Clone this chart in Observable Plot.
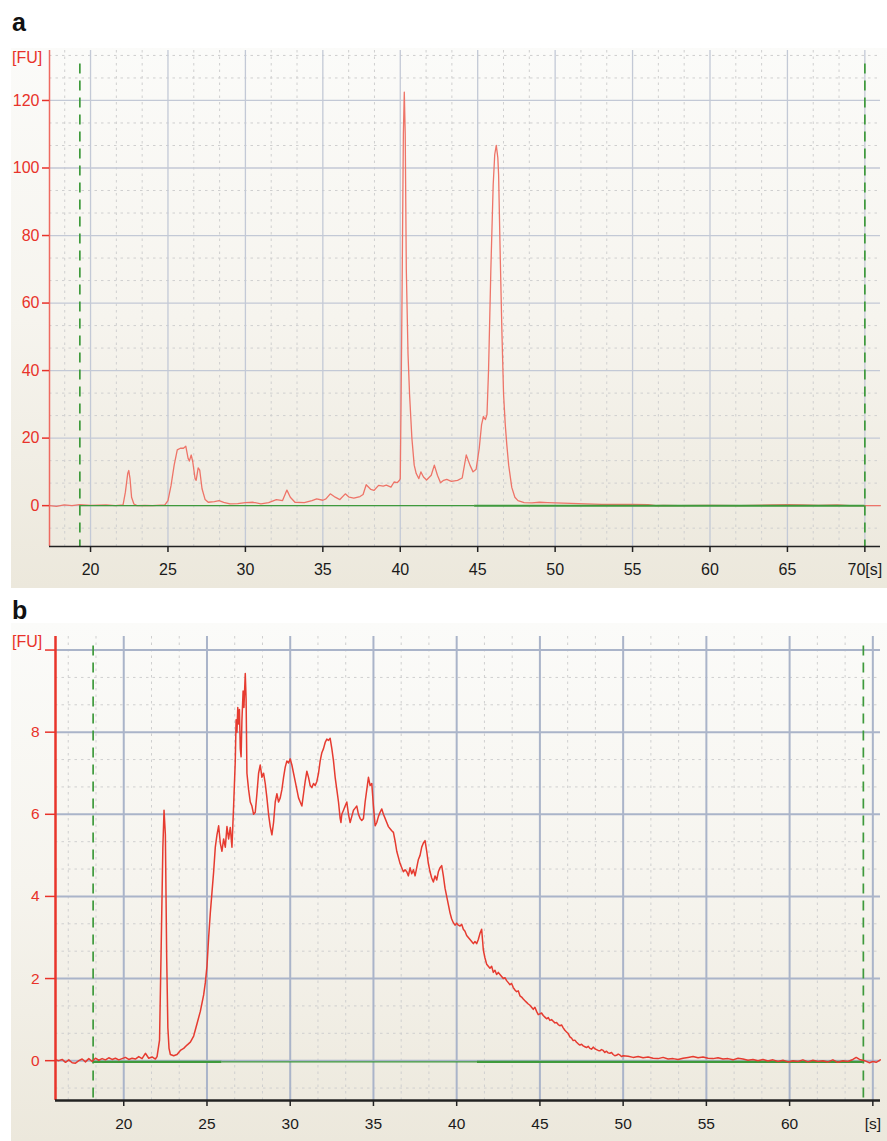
<!DOCTYPE html>
<html><head><meta charset="utf-8">
<script src="https://cdn.jsdelivr.net/npm/d3@7"></script>
<script src="https://cdn.jsdelivr.net/npm/@observablehq/plot@0.6"></script>
<style>
body{margin:0;background:#fff;width:887px;height:1141px;position:relative;overflow:hidden;font-family:"Liberation Sans",Arial,sans-serif}
.panel{position:absolute;left:11px;width:876px;background:linear-gradient(to bottom,#fbfbf9 0%,#f6f4ee 50%,#ece8dc 100%)}
.lab{position:absolute;left:12px;font-weight:bold;font-size:25px;color:#111;line-height:1}
.fu{position:absolute;left:12px;font-size:16px;color:#e8322a;line-height:1}
svg{overflow:visible}
</style></head><body>
<div class="lab" style="top:10px">a</div>
<div class="panel" id="pa" style="top:48px;height:540px"></div>
<div class="fu" style="top:50px">[FU]</div>
<div class="lab" style="top:598px">b</div>
<div class="panel" id="pb" style="top:623px;height:518px"></div>
<div class="fu" style="top:634px">[FU]</div>
<script>
// ---------- Panel a data ----------
const aTime = [17.35,17.8,18.3,18.8,19.3,20.0,21.0,21.6,22.1,22.25,22.4,22.47,22.55,22.65,22.8,23.0,23.5,24.0,24.8,25.0,25.2,25.4,25.6,25.8,26.0,26.15,26.3,26.38,26.5,26.6,26.75,26.82,26.95,27.05,27.2,27.4,27.6,28.0,28.3,28.6,29.0,29.5,30.0,30.5,31.0,31.5,32.0,32.4,32.68,32.9,33.2,33.8,34.3,34.6,35.0,35.2,35.48,35.8,36.1,36.45,36.7,37.0,37.4,37.6,37.8,38.1,38.3,38.6,38.9,39.1,39.4,39.6,39.8,39.95,40.0,40.05,40.12,40.2,40.26,40.32,40.39,40.5,40.6,40.75,40.9,41.03,41.2,41.33,41.5,41.7,42.0,42.2,42.4,42.6,42.8,43.0,43.3,43.7,44.0,44.26,44.5,44.7,44.9,45.1,45.25,45.37,45.5,45.6,45.7,45.85,46.0,46.1,46.2,46.3,46.35,46.45,46.56,46.67,46.78,46.88,47.0,47.2,47.4,47.6,48.0,48.5,49.0,49.5,50.0,51,52,53,54,55,56,56.5,57,58,60,62,64,65,66,67,68.2,69,70,71];
const aFU = [0,-0.2,0.2,0,0.3,0.1,0.2,0,0.2,4,9.5,10.4,8,2.5,0.5,0,0.1,0,0.2,1.5,6,12,16.5,17,17,17.6,14,13.2,15,13,8,7.5,11.2,10.5,5,1.8,1,1.2,1.5,1,0.5,0.6,0.9,1,0.5,0.9,1.8,1.5,4.6,2.5,1,0.9,1.5,2,1.6,2,3.5,2.5,1.8,3.5,2.5,2.2,2.7,3.3,6.2,4.8,4.5,6,5.8,6.1,5.5,7,6.8,7.5,8,30,65,110,122.5,110,70,45,33,20,12,9.5,8,10,8.5,7.6,9,12,9,6.8,7.5,7.8,7.2,7.5,8.2,15,12,10,10.8,17,24,26.4,25.5,27,40,70,95,104,106.7,103,98,75,52,33,24,18,12,5.4,2.5,1.5,0.9,0.8,1,0.9,0.8,0.7,0.5,0.4,0.4,0.4,0.3,0,0.1,0,0.1,0,0.2,0.3,0.2,0.1,0.2,0,0,0];
const aXTicks = [20,25,30,35,40,45,50,55,60,65,70];
const aXLabels = ["20","25","30","35","40","45","50","55","60","65","70[s]"];
const aYTicks = [0,20,40,60,80,100,120];
const aMarkers = [19.31, 70.0];               // green dashed markers
const aBaseStart = [19.31, 44.8];             // green baseline segments
const aBaseEnd = [44.8, 70.0];
const aBaseWidth = [1.4, 2];

// ---------- Panel b data ----------
const bTime = [15.9,16.1,16.3,16.5,16.7,16.9,17.1,17.3,17.5,17.7,17.9,18.1,18.3,18.5,18.7,18.9,19.1,19.3,19.5,19.7,19.9,20.1,20.3,20.5,20.7,20.9,21.1,21.3,21.5,21.7,21.9,22.0,22.15,22.25,22.35,22.42,22.5,22.58,22.65,22.72,22.8,23.0,23.2,23.4,23.6,23.8,24.0,24.2,24.4,24.6,24.8,24.9,25.0,25.1,25.2,25.3,25.4,25.5,25.6,25.7,25.8,25.9,26.0,26.1,26.2,26.3,26.4,26.5,26.6,26.7,26.75,26.8,26.85,26.9,26.95,27.0,27.05,27.1,27.17,27.22,27.3,27.35,27.4,27.5,27.6,27.7,27.8,27.9,28.0,28.1,28.2,28.3,28.4,28.5,28.6,28.7,28.8,28.9,29.0,29.1,29.2,29.3,29.4,29.5,29.6,29.7,29.8,29.9,30.0,30.1,30.2,30.3,30.4,30.5,30.6,30.7,30.8,30.9,31.0,31.1,31.2,31.3,31.4,31.5,31.6,31.7,31.8,31.9,32.0,32.1,32.2,32.3,32.4,32.5,32.6,32.7,32.8,32.9,33.0,33.05,33.1,33.2,33.3,33.4,33.5,33.6,33.7,33.8,33.9,34.0,34.1,34.2,34.3,34.4,34.5,34.6,34.7,34.8,34.9,35.0,35.1,35.2,35.3,35.4,35.5,35.6,35.7,35.8,35.9,36.0,36.1,36.2,36.3,36.4,36.5,36.6,36.7,36.8,36.9,37.0,37.1,37.2,37.3,37.4,37.5,37.6,37.7,37.8,37.9,38.0,38.1,38.2,38.3,38.4,38.5,38.6,38.7,38.8,38.9,39.0,39.1,39.2,39.3,39.4,39.5,39.6,39.7,39.8,39.9,40.0,40.1,40.2,40.3,40.4,40.5,40.6,40.7,40.8,40.9,41.0,41.1,41.2,41.3,41.4,41.5,41.55,41.6,41.7,41.8,41.9,42.0,42.1,42.2,42.3,42.4,42.5,42.6,42.7,42.8,42.9,43.0,43.1,43.2,43.3,43.4,43.5,43.6,43.7,43.8,43.9,44.0,44.1,44.2,44.3,44.4,44.5,44.6,44.7,44.8,44.9,45.0,45.1,45.2,45.3,45.4,45.5,45.6,45.7,45.8,45.9,46.0,46.1,46.2,46.3,46.4,46.5,46.6,46.7,46.8,46.9,47.0,47.1,47.2,47.3,47.4,47.5,47.6,47.7,47.8,47.9,48.0,48.1,48.2,48.3,48.4,48.5,48.6,48.7,48.8,48.9,49.0,49.1,49.2,49.3,49.4,49.5,49.6,49.7,49.8,49.9,50.0,50.3,50.6,50.9,51.2,51.5,51.8,52.1,52.4,52.7,53.0,53.3,53.6,53.9,54.2,54.5,54.8,55.1,55.4,55.7,56.0,56.3,56.6,56.9,57.2,57.5,57.8,58.1,58.4,58.7,59.0,59.3,59.6,59.9,60.2,60.5,60.8,61.1,61.4,61.7,62.0,62.3,62.6,62.9,63.2,63.5,63.8,64.0,64.2,64.5,64.8,65.0,65.2,65.45];
const bFU = [0.02,0,0.03,-0.04,0.02,-0.05,-0.06,0,0.04,-0.03,0.05,-0.02,0.06,0.01,0.05,0.02,0.07,0.03,0.06,0.02,0.05,0.08,0.03,0.06,0.04,0.1,0.05,0.18,0.06,0.09,0.04,0.1,0.5,2.8,5.2,6.1,5.5,2.5,0.8,0.3,0.15,0.12,0.15,0.25,0.3,0.38,0.45,0.6,0.9,1.2,1.6,1.9,2.3,3.0,3.6,4.1,4.6,5.2,5.5,5.72,5.3,5.1,5.4,5.2,5.7,5.4,5.68,5.2,6.2,7.3,8.3,8.0,8.6,8.2,8.55,7.6,7.4,8.3,9.0,8.6,9.43,8.8,7.0,6.6,6.3,6.2,6.0,6.05,6.5,7.0,7.2,6.9,7.0,6.75,6.4,6.0,5.7,5.5,5.8,6.3,6.5,6.3,6.4,6.6,6.9,7.15,7.3,7.25,7.35,7.2,7.0,6.8,6.6,6.4,6.3,6.2,6.5,6.8,7.05,6.9,6.7,6.65,6.75,6.7,6.8,7.0,7.3,7.5,7.6,7.75,7.83,7.8,7.85,7.6,7.3,6.9,6.6,6.3,5.9,5.8,6.0,6.1,6.2,6.3,6.0,5.8,5.95,6.1,6.15,6.2,6.0,5.9,5.85,5.9,6.3,6.6,6.9,6.7,6.75,6.2,5.72,5.8,5.95,6.05,6.13,6.0,5.9,5.8,5.7,5.65,5.6,5.56,5.35,5.1,4.95,4.8,4.7,4.6,4.65,4.6,4.5,4.7,4.55,4.65,4.5,4.7,4.9,5.0,5.2,5.3,5.36,5.1,4.8,4.6,4.45,4.35,4.5,4.4,4.6,4.7,4.75,4.5,4.2,4.0,3.8,3.6,3.45,3.36,3.3,3.35,3.3,3.28,3.32,3.2,3.15,3.05,3.0,2.95,2.9,2.85,2.9,2.85,2.95,3.1,3.2,2.95,2.7,2.5,2.35,2.3,2.25,2.3,2.15,2.2,2.1,2.15,2.1,2.05,2.0,2.02,1.95,1.9,1.85,1.88,1.78,1.72,1.68,1.7,1.58,1.55,1.5,1.46,1.42,1.38,1.35,1.3,1.25,1.3,1.2,1.12,1.14,1.16,1.1,1.06,1.02,1.05,0.98,1.0,0.96,0.92,0.93,0.88,0.85,0.87,0.8,0.74,0.7,0.66,0.58,0.55,0.49,0.5,0.45,0.41,0.38,0.4,0.36,0.34,0.32,0.35,0.3,0.28,0.33,0.29,0.27,0.25,0.24,0.27,0.25,0.2,0.23,0.19,0.18,0.2,0.15,0.12,0.13,0.16,0.14,0.1,0.12,0.11,0.08,0.1,0.07,0.09,0.06,0.05,0.08,0.04,0.05,0.03,0.06,0.08,0.1,0.07,0.09,0.06,0.05,0.07,0.04,0.05,0.02,0.06,0.04,0.01,0.03,0,0.03,-0.01,0.02,-0.02,0.01,-0.03,0,-0.02,0.02,-0.03,0.01,-0.02,0,-0.03,0.02,-0.04,0,-0.02,0.03,0.08,0.03,0,-0.05,-0.02,-0.04,0.02];
const bXTicks = [20,25,30,35,40,45,50,55,60,65];
const bXLabels = ["20","25","30","35","40","45","50","55","60","[s]"];
const bYTicks = [0,2,4,6,8,10];
const bYLabels = ["0","2","4","6","8",""];
const bMarkers = [18.16, 64.43];
const bBaseStart = [18.16, 25.9, 41.25];
const bBaseEnd = [25.9, 41.25, 64.43];
const bBaseWidth = [2.2, 1.2, 2.2];

// ---------- helpers ----------
function minor(majors, step, lo, hi) {
  const out = [];
  const base = majors[0];
  for (let k = -30; k <= 120; k++) {
    if (k % 3 === 0) continue;
    const v = base + k * step / 3;
    if (v > lo && v < hi) out.push(v);
  }
  return out;
}

function panel(cfg) {
  const n = Math.min(cfg.t.length, cfg.v.length);
  const trace = cfg.t.slice(0, n).map((t, i) => ({t, v: cfg.v[i]}));
  const base = cfg.bs.map((s, i) => ({x1: s, x2: cfg.be[i], w: cfg.bw[i]}));
  const [x0, x1] = cfg.xd, [y0, y1] = cfg.yd;
  const gridMarks = [
    Plot.ruleX(minor(cfg.xt, 5, x0, x1), {stroke: "#cfcfcf", strokeWidth: 1, strokeDasharray: "2.5,4"}),
    Plot.ruleY(minor(cfg.yt, cfg.yt[1] - cfg.yt[0], y0, y1), {stroke: "#cfcfcf", strokeWidth: 1, strokeDasharray: "2.5,4"}),
    Plot.ruleX(cfg.xt, {stroke: cfg.gridColor, strokeWidth: cfg.gridW}),
    Plot.ruleY(cfg.yt.filter(v => v <= y1), {stroke: cfg.gridColor, strokeWidth: cfg.gridW})
  ];
  const greenMarks = [
    Plot.ruleY(base, {y: () => cfg.baseY, x1: "x1", x2: "x2", stroke: "#3f9a3c", strokeWidth: "w"}),
    Plot.ruleX(cfg.markers, {stroke: "#3f9a3c", strokeWidth: 1.7, strokeDasharray: "10,7", y1: cfg.markerTop, y2: y0})
  ];
  const traceMark = Plot.line(trace, {x: "t", y: "v", stroke: cfg.traceColor, strokeWidth: cfg.traceW, curve: "linear"});
  const layers = cfg.traceOnTop ? [...greenMarks, traceMark] : [traceMark, ...greenMarks];
  return Plot.plot({
    width: 876, height: cfg.h,
    marginLeft: cfg.ml, marginRight: 7, marginTop: cfg.mt, marginBottom: cfg.mb,
    x: {domain: cfg.xd, label: null},
    y: {domain: cfg.yd, label: null},
    style: {background: "transparent", fontFamily: '"Liberation Sans", Arial, sans-serif', fontSize: cfg.fs, overflow: "visible"},
    marks: [
      ...gridMarks,
      ...layers,
      Plot.ruleX([x0], {stroke: cfg.axisRed, strokeWidth: cfg.axisW}),
      Plot.ruleY([y0], {stroke: "#222", strokeWidth: cfg.axisW}),
      Plot.axisX({ticks: cfg.xt, tickFormat: d => cfg.xl[cfg.xt.indexOf(d)], tickSize: 6, tickPadding: cfg.xpad, stroke: "#222", fill: "#1a1a1a", strokeWidth: 1.5}),
      Plot.axisY({ticks: cfg.yt, tickFormat: d => cfg.yl[cfg.yt.indexOf(d)], tickSize: cfg.yts, tickPadding: cfg.ypad, stroke: "#e8322a", fill: "#e8322a", strokeWidth: 1.5})
    ]
  });
}

document.getElementById("pa").append(panel({
  t: aTime, v: aFU, h: 540, ml: 38, mt: 2, mb: 42,
  xd: [17.35, 71.01], yd: [-12.1, 134.8],
  xt: aXTicks, xl: aXLabels, yt: aYTicks, yl: aYTicks.map(String),
  markers: aMarkers, markerTop: 130.8, bs: aBaseStart, be: aBaseEnd, bw: aBaseWidth, baseY: 0,
  gridColor: "#c3c9d6", gridW: 1.3, traceColor: "#ee7468", traceW: 1.3, traceOnTop: false,
  axisRed: "#ee6a60", axisW: 1.5, fs: "16px", xpad: 11, yts: 7, ypad: 3
}));

document.getElementById("pb").append(panel({
  t: bTime, v: bFU, h: 518, ml: 44, mt: 13, mb: 41,
  xd: [15.9, 65.46], yd: [-0.97, 10.33],
  xt: bXTicks, xl: bXLabels, yt: bYTicks, yl: bYLabels,
  markers: bMarkers, markerTop: 10.1, bs: bBaseStart, be: bBaseEnd, bw: bBaseWidth, baseY: -0.03,
  gridColor: "#aab4c9", gridW: 2, traceColor: "#e63b30", traceW: 1.5, traceOnTop: true,
  axisRed: "#e8352b", axisW: 2.5, fs: "15.5px", xpad: 11, yts: 10, ypad: 6
}));
</script>
</body></html>
